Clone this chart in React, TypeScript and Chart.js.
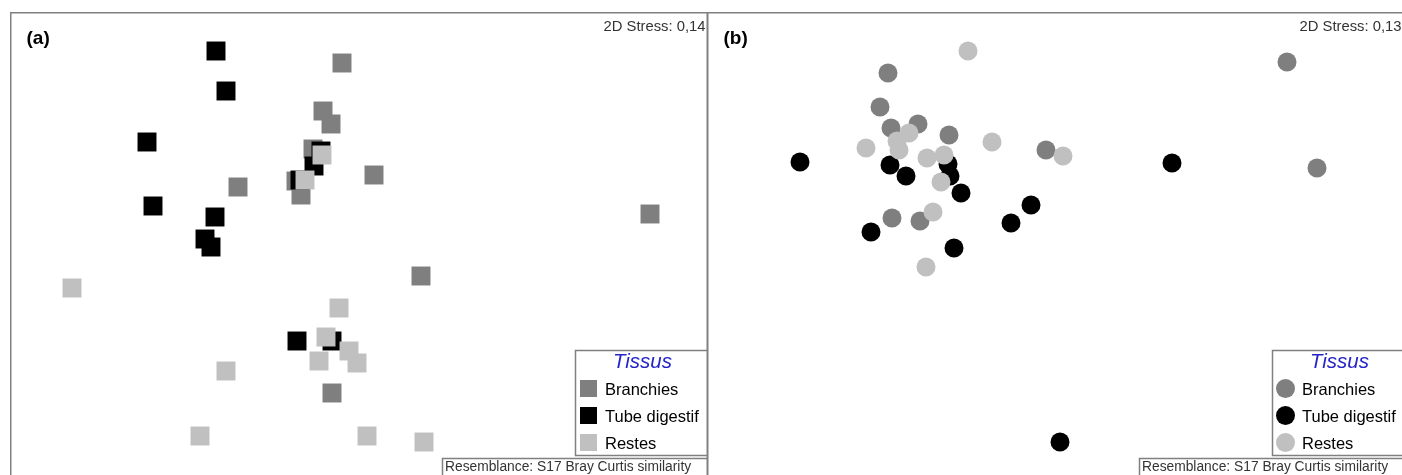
import React, { useEffect, useRef } from 'react';
import { Chart, registerables } from 'chart.js';

Chart.register(...registerables);

// ---- text ----
const tissueLabels = ['Branchies', 'Tube digestif', 'Restes'];
const legendTitle = 'Tissus';
const resemblanceText = 'Resemblance: S17 Bray Curtis similarity';
const panelLabels = ['(a)', '(b)'];
const stressLabels = ['2D Stress: 0,14', '2D Stress: 0,13'];

// ---- ordination scores (panel units: x from left edge, y from top edge) ----
// Panel (a)
const aBranchies = [
  [332, 51], [313, 99], [321, 112], [303, 137], [228, 175], [286, 169],
  [291, 183], [364, 163], [640, 202], [411, 264], [322, 381],
];
const aTube = [
  [206, 39], [216, 79], [137, 130], [143, 194], [205, 205], [195, 227],
  [201, 235], [311, 139], [304, 154], [290, 168], [287, 329], [322, 329],
];
const aRestes = [
  [312, 143], [295, 168], [62, 276], [329, 296], [316, 325], [309, 349],
  [339, 339], [347, 351], [216, 359], [190, 424], [357, 424], [414, 430],
];

// Panel (b)
const bBranchies = [
  [181, 61], [173, 95], [184, 116], [211, 112], [242, 123], [339, 138],
  [185, 206], [213, 209], [580, 50], [610, 156],
];
const bTube = [
  [93, 150], [183, 153], [199, 164], [241, 152], [243, 164], [254, 181],
  [324, 193], [304, 211], [164, 220], [247, 236], [353, 430], [465, 151],
];
const bRestes = [
  [261, 39], [202, 121], [190, 129], [192, 138], [159, 136], [285, 130],
  [356, 144], [220, 146], [237, 143], [234, 170], [226, 200], [219, 255],
];

const COLORS = ['#7f7f7f', '#000000', '#c0c0c0'];
const FONT = '"Liberation Sans", Arial, Helvetica, sans-serif';

type Shape = 'rect' | 'circle';

function decorPlugin(label: string, stress: string, shape: Shape) {
  return {
    id: 'panelDecor',
    afterDraw(chart: any) {
      const ctx: CanvasRenderingContext2D = chart.ctx;
      const W = chart.width;
      const H = chart.height;
      ctx.save();
      // panel frame
      ctx.strokeStyle = '#808080';
      ctx.lineWidth = 1.5;
      ctx.strokeRect(0.75, 0.75, W - 1.5, H + 20);

      // panel label
      ctx.fillStyle = '#000';
      ctx.textAlign = 'left';
      ctx.textBaseline = 'alphabetic';
      ctx.font = `bold 19px ${FONT}`;
      ctx.fillText(label, 16.5, 31.5);

      // stress
      ctx.font = `14.8px ${FONT}`;
      ctx.fillStyle = '#333';
      ctx.textAlign = 'right';
      ctx.fillText(stress, W - 2.5, 18.5);

      // legend box
      const lx = 565.5;
      const ly = 338.5;
      const lw = W - 0.75 - lx;
      const lh = 105;
      ctx.fillStyle = '#fff';
      ctx.fillRect(lx, ly, lw, lh);
      ctx.strokeStyle = '#808080';
      ctx.lineWidth = 1.5;
      ctx.strokeRect(lx, ly, lw, lh);

      ctx.textAlign = 'center';
      ctx.fillStyle = '#2424c8';
      ctx.font = `italic 20.5px ${FONT}`;
      ctx.fillText(legendTitle, 632.5, 356);

      ctx.textAlign = 'left';
      ctx.font = `16.5px ${FONT}`;
      tissueLabels.forEach((t, i) => {
        const cy = 376.5 + i * 27;
        ctx.fillStyle = COLORS[i];
        if (shape === 'rect') {
          ctx.fillRect(570, cy - 8.5, 17, 17);
        } else {
          ctx.beginPath();
          ctx.arc(578.5, cy, 9.5, 0, Math.PI * 2);
          ctx.fill();
        }
        ctx.fillStyle = '#000';
        ctx.fillText(t, 595, cy + 6);
      });

      // resemblance box
      const rx = 432.5;
      const ry = 446.5;
      ctx.fillStyle = '#fff';
      ctx.fillRect(rx, ry, W - 0.75 - rx, 30);
      ctx.strokeStyle = '#808080';
      ctx.lineWidth = 1.5;
      ctx.strokeRect(rx, ry, W - 0.75 - rx, 30);
      ctx.fillStyle = '#333';
      ctx.font = `13.8px ${FONT}`;
      ctx.fillText(resemblanceText, 435, 459);

      ctx.restore();
    },
  };
}

function toPts(arr: number[][]) {
  return arr.map(([x, y]) => ({ x, y }));
}

function Panel(props: {
  left: number; width: number; height: number; label: string; stress: string;
  shape: Shape; series: number[][][];
}) {
  const ref = useRef<HTMLCanvasElement | null>(null);
  useEffect(() => {
    if (!ref.current) return;
    const radius = props.shape === 'rect' ? 13.4 : 9.5;
    const chart = new Chart(ref.current, {
      type: 'scatter',
      data: {
        datasets: props.series.map((s, i) => ({
          label: tissueLabels[i],
          data: toPts(s),
          backgroundColor: COLORS[i],
          borderWidth: 0,
          pointStyle: props.shape,
          pointRadius: radius,
          pointHoverRadius: radius,
          order: 2 - i,
          clip: false as any,
        })),
      },
      options: {
        responsive: false,
        animation: false,
        events: [],
        layout: { padding: 0, autoPadding: false },
        plugins: { legend: { display: false }, tooltip: { enabled: false } },
        scales: {
          x: { type: 'linear', min: 0, max: props.width, display: false },
          y: { type: 'linear', min: 0, max: props.height, reverse: true, display: false },
        },
      },
      plugins: [decorPlugin(props.label, props.stress, props.shape)],
    });
    return () => chart.destroy();
  }, []);
  return (
    <canvas
      ref={ref}
      width={props.width}
      height={props.height}
      style={{ position: 'absolute', left: props.left, top: 12, width: props.width, height: props.height }}
    />
  );
}

export default function App() {
  return (
    <div style={{ position: 'absolute', left: 0, top: 0, width: 1402, height: 475, overflow: 'hidden', background: '#fff' }}>
      <Panel left={10} width={698} height={463} label={panelLabels[0]} stress={stressLabels[0]} shape="rect"
        series={[aBranchies, aTube, aRestes]} />
      <Panel left={707} width={697} height={463} label={panelLabels[1]} stress={stressLabels[1]} shape="circle"
        series={[bBranchies, bTube, bRestes]} />
    </div>
  );
}
